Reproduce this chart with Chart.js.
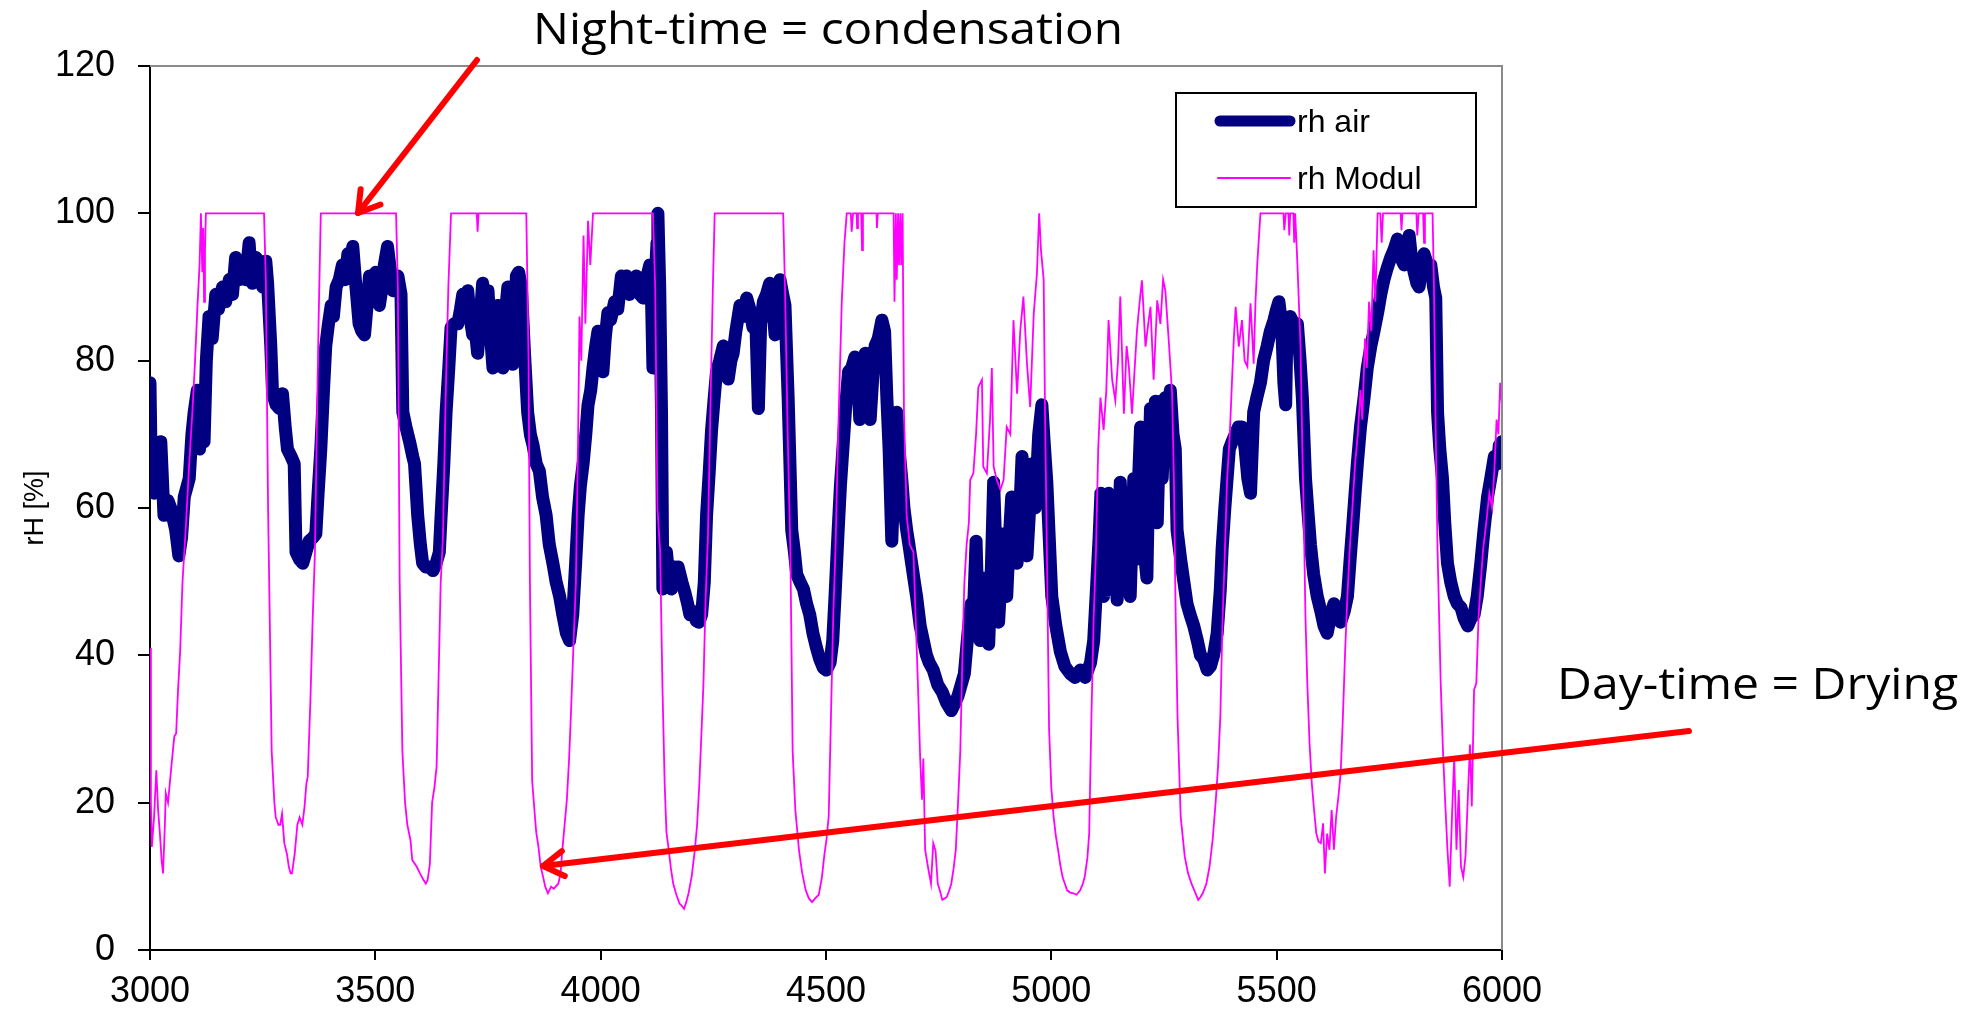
<!DOCTYPE html>
<html>
<head>
<meta charset="utf-8">
<style>
  html, body { margin: 0; padding: 0; background: #fff; }
  #wrap { width: 1964px; height: 1013px; }
</style>
<script src="https://cdn.jsdelivr.net/npm/chart.js@4.4.1/dist/chart.umd.min.js"></script>
</head>
<body>
<div id="wrap"><canvas id="rhChart" width="1964" height="1013"></canvas></div>
<script>
// --- axis ticks ---
const xTicks = [3000, 3500, 4000, 4500, 5000, 5500, 6000];
const yTicks = [0, 20, 40, 60, 80, 100, 120];

// --- rh air ---
const airX = [3000,3003,3010,3018,3024,3031,3040,3046,3057,3064,3070,3076,3087,3093,3098,3105,3110,3113,3120,3125,
  3131,3138,3146,3152,3161,3168,3176,3183,3190,3198,3205,3212,3220,3224,3227,3235,3242,3250,3257,3261,
  3268,3272,3280,3287,3294,3300,3305,3313,3320,3324,3332,3339,3346,3353,3362,3368,3373,3379,3385,3390,
  3396,3402,3407,3413,3420,3427,3433,3439,3445,3450,3457,3464,3470,3476,3481,3487,3494,3501,3509,3515,
  3520,3527,3534,3539,3545,3550,3557,3561,3568,3576,3583,3587,3594,3600,3605,3612,3620,3628,3635,3642,
  3646,3652,3657,3663,3668,3675,3683,3689,3694,3700,3705,3710,3716,3722,3727,3733,3738,3745,3750,3755,
  3761,3767,3772,3778,3783,3788,3794,3800,3805,3810,3813,3818,3824,3831,3838,3844,3850,3857,3864,3871,
  3879,3886,3894,3901,3909,3916,3924,3931,3938,3944,3950,3955,3961,3967,3972,3978,3983,3989,3994,3999,
  4005,4010,4016,4022,4031,4038,4046,4053,4057,4064,4072,4079,4087,4094,4101,4109,4113,4116,4120,4125,
  4127,4131,4135,4138,4146,4152,4157,4163,4168,4172,4180,4187,4193,4198,4205,4212,4218,4224,4230,4235,
  4241,4246,4252,4257,4264,4272,4278,4283,4289,4294,4300,4309,4316,4324,4331,4338,4344,4350,4355,4361,
  4368,4375,4381,4387,4392,4398,4404,4409,4416,4424,4430,4435,4442,4450,4457,4464,4471,4479,4486,4494,
  4501,4509,4515,4520,4527,4532,4538,4544,4550,4557,4564,4570,4575,4581,4587,4593,4598,4604,4609,4616,
  4624,4630,4635,4640,4646,4652,4657,4662,4668,4673,4679,4684,4690,4696,4701,4709,4716,4723,4729,4738,
  4748,4758,4768,4778,4786,4793,4800,4807,4815,4822,4827,4833,4838,4842,4848,4853,4857,4861,4867,4872,
  4877,4883,4888,4894,4898,4901,4906,4912,4918,4924,4929,4935,4940,4946,4951,4957,4961,4964,4972,4979,
  4984,4990,4996,5001,5010,5020,5030,5042,5053,5064,5075,5087,5094,5101,5106,5110,5116,5121,5127,5131,
  5138,5146,5153,5160,5168,5175,5183,5187,5190,5198,5205,5212,5216,5220,5226,5231,5235,5242,5246,5253,
  5258,5264,5270,5275,5279,5287,5294,5301,5308,5316,5324,5331,5338,5346,5353,5360,5368,5375,5379,5385,
  5390,5395,5401,5408,5415,5423,5430,5436,5442,5449,5456,5464,5471,5479,5486,5494,5500,5505,5511,5516,
  5520,5523,5530,5538,5546,5552,5557,5564,5570,5575,5582,5590,5598,5605,5612,5620,5627,5635,5642,5650,
  5657,5663,5668,5674,5679,5686,5694,5701,5709,5716,5724,5731,5738,5745,5753,5760,5768,5775,5783,5788,
  5794,5799,5805,5811,5816,5822,5827,5835,5842,5848,5853,5857,5862,5868,5873,5879,5886,5894,5901,5909,
  5916,5924,5931,5938,5945,5953,5960,5968,5975,5983,5990,5994,6000];
const airY = [77,64,62,66,69,59,61,60,57,53.5,56,61.5,64,70,73,76,68,75,69,80,
  86,83,89,87,90,88,91,89,94,91,93,91,96,92,90.5,94,93.5,90,93.5,90.5,
  82,75.5,74,73.5,75.5,71,68,67,66,54,53,52.5,54,55.5,56,56.5,62,68,76,82,
  85,87.5,86,90,91,93,91,94.5,93,95.5,90,85,84,83.5,87,91.5,90,92,87.5,90,
  93,95.5,92,89.5,91,91.5,89,73,71,69,67,66,59,55,52.5,52,52,51.5,52.5,54,
  59,66,73,79,84.5,85,85,87,89,86,89.5,86,83.5,84,81,86,90.5,87,89.5,84,
  79,85,87.5,82,79,86,90,85,79.5,86,91.5,92,90,81,73,70,68.5,66,65,61.5,
  59,55,52.5,50,48,45.5,43,42,45.5,52,59,63,66,70,74,76,79,82,84,81,
  78.5,83,86.5,85.5,88,87,91.5,90,91.5,89,90,91.5,89,88.5,91,93,88,79,90,96,
  100,90,73,49,54,50,49,52,50,52,50,48.5,47,45.5,46,44.7,44.5,45.5,50,59,
  65,70.5,75,78.5,80,82,81,77.5,80,81,84,87.5,86,88.5,87,84.5,86,73.5,85,88,
  89,90.5,88,83.5,88,91,89,87.5,75,57,54,51,50,49,47,45.5,43,41,39.5,38.3,
  38,39,42,48,57,63,68.5,74,78.5,79,80.5,78,72,77,81,78,72,78,82,83,
  85.5,84,75,68,55.5,66,73,68,64,60,57,55,52.5,50,48,44,42,40,39,38,
  36,35,33.5,32.5,33.5,34.5,36,37.5,43,47,45.5,55.5,44,42,50,50.5,44,41.5,52,63.5,
  54,44.5,50,56.5,52,48,55,61.5,57,52.5,58,67,60,53.5,59,66,62,60,70,74,
  69,63.5,55,48,44,40.5,38.5,37.5,37,38,37,39,42,50,56,62,48,57,62,49,
  60,47.5,63.5,50,62,48,64,53,58,71,55,50.5,64,73.5,62,74.5,58,74.5,64,75,
  68,76,70,68,57,53,50,47,45.5,44,42,40,39.5,38,38.5,40,43,49,54.5,60,
  64,68,69,70,71,71,68,64,62,73,75,77,80,82,84,85.5,87,88,85,77,
  74,85.5,86,85,85,80,75,64,59,55,51,48,46,44,43,45.5,47,45,44.5,46,
  48,53,57,62,66,71,75,79,82,84,86.5,89,91,92.5,94,95,96.5,94,93,95,
  97,94,92,90.5,90,93,94.5,93,93,90,88.5,73,68,64,58,52.5,50,48,47,46.5,
  45,44,45,45.5,48,52.5,57,61.5,64,67,66,68.5,69];

// --- rh Modul ---
const modX = [3000,3002,3004,3009,3014,3018,3022,3026,3029,3033,3035,3040,3048,3054,3058,3062,3067,3072,3080,3087,
  3094,3100,3105,3110,3113,3116,3118,3120,3122,3124,3253,3257,3262,3265,3270,3276,3279,3285,3289,3293,
  3298,3304,3308,3312,3315,3321,3327,3332,3338,3343,3347,3350,3356,3361,3366,3370,3374,3379,3546,3550,
  3554,3560,3566,3571,3578,3582,3592,3599,3607,3612,3616,3621,3626,3631,3636,3640,3645,3650,3656,3662,
  3668,3725,3727,3729,3835,3840,3843,3848,3853,3857,3862,3867,3872,3877,3883,3890,3896,3900,3906,3911,
  3915,3920,3925,3930,3934,3940,3945,3950,3953,3957,3962,3966,3972,3977,3983,4116,4121,4126,4132,4137,
  4142,4146,4151,4156,4161,4168,4175,4180,4185,4190,4195,4202,4209,4214,4219,4224,4228,4233,4238,4244,
  4249,4253,4405,4409,4415,4421,4426,4432,4440,4447,4455,4462,4469,4476,4484,4491,4496,4501,4506,4511,
  4516,4521,4527,4535,4541,4546,4555,4557,4560,4568,4569,4571,4578,4580,4582,4612,4613,4615,4650,4652,
  4655,4657,4660,4662,4665,4667,4670,4673,4679,4686,4694,4699,4704,4709,4713,4716,4720,4727,4733,4738,
  4743,4748,4753,4758,4763,4768,4773,4778,4783,4788,4793,4798,4803,4807,4812,4817,4820,4827,4833,4838,
  4846,4849,4857,4864,4868,4872,4879,4887,4894,4901,4909,4916,4924,4931,4938,4946,4953,4961,4968,4973,
  4977,4983,4986,4990,4995,5000,5005,5010,5015,5020,5025,5030,5035,5042,5049,5056,5064,5070,5074,5080,
  5084,5089,5094,5099,5104,5109,5116,5122,5127,5135,5142,5148,5153,5161,5167,5172,5179,5185,5190,5196,
  5201,5209,5215,5220,5227,5235,5242,5248,5253,5261,5268,5272,5276,5280,5287,5296,5303,5311,5318,5326,
  5331,5336,5344,5351,5358,5365,5370,5375,5380,5384,5390,5396,5401,5405,5409,5416,5423,5429,5435,5442,
  5449,5453,5457,5464,5515,5517,5520,5526,5528,5530,5537,5539,5541,5546,5553,5557,5560,5564,5568,5573,
  5578,5583,5588,5593,5598,5603,5607,5612,5617,5622,5627,5632,5637,5642,5647,5652,5657,5662,5668,5674,
  5680,5686,5690,5696,5700,5705,5710,5715,5719,5724,5730,5733,5736,5775,5777,5779,5810,5812,5815,5825,
  5827,5829,5846,5849,5853,5857,5864,5869,5874,5879,5884,5889,5894,5899,5904,5909,5914,5919,5924,5929,
  5933,5938,5943,5948,5953,5958,5965,5972,5978,5983,5988,5992,5996,6000];
const modY = [41,20,14,18,24.4,19,15.8,12,10.4,17,21.3,20,25.3,29,29.4,35,40.7,49.8,58,66,
  73,80,87,93,100,92,98,88,95,100,100,91,60,48,27,20,18,17,17,18.5,
  14.5,13,11.3,10.4,10.4,13,17,18,17,19.5,22.6,23.5,34,45,54,70,85,100,100,90,
  50,27,20,17,14.9,12.2,11.3,10.4,9.5,9,9.5,11.7,20,22,24.9,36,49.8,56,75,90,
  100,100,97.5,100,100,80,50,23,19,16,14,11.3,10,8.6,7.7,8.6,8.3,8.6,9,10.4,
  13.6,17,20.4,26,32,42,49.8,70,86,80,97,85,99,93,100,100,90,60,54,36,
  22.6,16,13.6,11,9,7.5,6.3,6,5.6,6.5,7.7,10,13.6,17,22.6,30,36,48,56,75,
  90,100,100,90,70,54,27,19,13.6,10.5,8.1,7,6.5,7,7.5,9.9,12.7,15,18.1,31.7,
  45.2,54.3,70,88,96,100,100,97.5,100,100,98,100,100,95,100,100,98,100,100,88,
  100,91,100,93,100,93,100,73,59,55,54,45,36,26,20.4,26,13.6,11,9,14.5,
  13.5,9,8,6.8,7,7.2,8,9,11,13.6,20,27,40.7,49.8,55,58,63.8,64.7,70,76.4,
  77.4,65.6,64.7,72,79,65.6,63.8,62.5,63.8,71,70,85.5,75.5,84,88.7,79.6,73.7,86.4,91.8,100,
  95,91,73,54.8,30,22,18.1,15.5,13.6,11.5,9.9,9,8.1,7.8,7.7,7.5,8.1,9,9.9,12.5,
  15.8,31.7,45.2,54,68,75,70.6,76,85.5,77.4,74.6,80,88.7,72.8,82,79.2,72.8,79,84.1,88,
  90.9,81.9,85,87.3,77.4,88.2,85,91,89.5,82.3,75.5,63.8,45,31.7,18.1,12.7,10.5,9,8,6.8,
  7.2,7.7,9,11.3,15,20.4,25,31.7,45,52,63.8,70,77.4,83,87.3,81.9,85.5,80,79.2,87.8,
  79.6,88,93.2,100,100,97.7,100,100,97,100,100,96,100,93.2,81.9,68,59.3,45,36.2,28,
  22.6,19,15.8,14.7,14.5,17.2,10.4,15.8,13.6,19,13.6,18.1,20.8,24,31.7,40.7,48,54.3,60,66,
  70,76,72,83,79,88,84,95,88,100,100,96,100,100,97.7,100,100,97,100,100,
  96,100,100,90,70,54.3,36.2,27.1,20,13.6,8.6,18.1,26.2,13.6,21.7,11.3,9.9,12.7,20.4,27.9,
  19.5,35.3,36.2,45.2,50,54.3,58,62,60,65,72,70,77,74];

// --- texts ---
const seriesNames = ['rh air', 'rh Modul'];
const yTitle = 'rH [%]';
const nightText = 'Night-time = condensation';
const dayText = 'Day-time = Drying';

const toPoints = (xs, ys) => xs.map((x, i) => ({ x: x, y: ys[i] }));

// frame, legend box, axis title, texts and red arrows
const overlayPlugin = {
  id: 'overlay',
  afterDraw(chart) {
    const ctx = chart.ctx;
    const a = chart.chartArea;
    ctx.save();

    // grey top / right frame
    ctx.strokeStyle = '#8a8a8a';
    ctx.lineWidth = 2;
    ctx.beginPath();
    ctx.moveTo(a.left, a.top);
    ctx.lineTo(a.right, a.top);
    ctx.lineTo(a.right, a.bottom);
    ctx.stroke();

    // y axis title
    ctx.save();
    ctx.translate(36, (a.top + a.bottom) / 2);
    ctx.rotate(-Math.PI / 2);
    ctx.fillStyle = '#000';
    ctx.font = '27px "Liberation Sans", Arial, sans-serif';
    ctx.textAlign = 'center';
    ctx.textBaseline = 'middle';
    ctx.fillText(yTitle, 0, 0);
    ctx.restore();

    // legend
    ctx.fillStyle = '#fff';
    ctx.fillRect(1176, 93, 300, 114);
    ctx.strokeStyle = '#000';
    ctx.lineWidth = 2;
    ctx.strokeRect(1176, 93, 300, 114);
    ctx.lineCap = 'round';
    ctx.strokeStyle = '#000080';
    ctx.lineWidth = 11;
    ctx.beginPath(); ctx.moveTo(1220, 121); ctx.lineTo(1290, 121); ctx.stroke();
    ctx.strokeStyle = '#ff00ff';
    ctx.lineWidth = 2;
    ctx.beginPath(); ctx.moveTo(1218, 178); ctx.lineTo(1290, 178); ctx.stroke();
    ctx.fillStyle = '#000';
    ctx.font = '32px "Liberation Sans", Arial, sans-serif';
    ctx.textBaseline = 'alphabetic';
    ctx.textAlign = 'left';
    ctx.fillText(seriesNames[0], 1297, 132);
    ctx.fillText(seriesNames[1], 1297, 189);

    // big annotation texts, squeezed to the width seen in the picture
    const drawFit = (txt, x, y, w) => {
      ctx.font = '44px "Open Sans", "Noto Sans", sans-serif';
      const m = ctx.measureText(txt).width;
      ctx.save();
      ctx.translate(x, y);
      ctx.scale(w / m, 1);
      ctx.fillText(txt, 0, 0);
      ctx.restore();
    };
    drawFit(nightText, 533, 44, 590);
    drawFit(dayText, 1557, 699, 401);

    // red arrows
    const arrow = (x0, y0, x1, y1) => {
      ctx.strokeStyle = '#ff0000';
      ctx.lineWidth = 6;
      ctx.lineCap = 'round';
      ctx.lineJoin = 'round';
      ctx.beginPath(); ctx.moveTo(x0, y0); ctx.lineTo(x1, y1); ctx.stroke();
      const ang = Math.atan2(y1 - y0, x1 - x0);
      const len = 24, spread = 0.55;
      ctx.beginPath();
      ctx.moveTo(x1 - len * Math.cos(ang - spread), y1 - len * Math.sin(ang - spread));
      ctx.lineTo(x1, y1);
      ctx.lineTo(x1 - len * Math.cos(ang + spread), y1 - len * Math.sin(ang + spread));
      ctx.stroke();
    };
    arrow(477, 60, 358, 213);
    arrow(1689, 731, 543, 866);

    ctx.restore();
  }
};

const ctx = document.getElementById('rhChart').getContext('2d');
new Chart(ctx, {
  type: 'line',
  data: {
    datasets: [
      {
        label: seriesNames[0],
        data: toPoints(airX, airY),
        borderColor: '#000080',
        borderWidth: 13,
        borderCapStyle: 'round',
        borderJoinStyle: 'round',
        pointRadius: 0,
        tension: 0,
        order: 2
      },
      {
        label: seriesNames[1],
        data: toPoints(modX, modY),
        borderColor: '#ff00ff',
        borderWidth: 1.8,
        pointRadius: 0,
        tension: 0,
        order: 1
      }
    ]
  },
  options: {
    responsive: false,
    animation: false,
    devicePixelRatio: 1,
    layout: { padding: { left: 0, top: 66, right: 1964 - 1502, bottom: 0 } },
    plugins: {
      legend: { display: false },
      tooltip: { enabled: false }
    },
    scales: {
      x: {
        type: 'linear',
        min: 3000,
        max: 6000,
        afterBuildTicks: (s) => { s.ticks = xTicks.map(v => ({ value: v })); },
        afterFit: (s) => { s.height = 63; s.paddingLeft = 0; s.paddingRight = 0; },
        grid: { drawOnChartArea: false, drawTicks: true, tickLength: 10, color: '#000', lineWidth: 2 },
        border: { display: true, color: '#000', width: 2 },
        ticks: {
          color: '#000',
          padding: 10,
          maxRotation: 0,
          font: { family: '"Liberation Sans", Arial, sans-serif', size: 36 },
          callback: (v) => String(v)
        }
      },
      y: {
        min: 0,
        max: 120,
        afterBuildTicks: (s) => { s.ticks = yTicks.map(v => ({ value: v })); },
        afterFit: (s) => { s.width = 150; s.paddingTop = 0; s.paddingBottom = 0; },
        grid: { drawOnChartArea: false, drawTicks: true, tickLength: 12, color: '#000', lineWidth: 2 },
        border: { display: true, color: '#000', width: 2 },
        ticks: {
          color: '#000',
          padding: 23,
          font: { family: '"Liberation Sans", Arial, sans-serif', size: 36 },
          callback: (v) => String(v)
        }
      }
    }
  },
  plugins: [overlayPlugin]
});
</script>
</body>
</html>
